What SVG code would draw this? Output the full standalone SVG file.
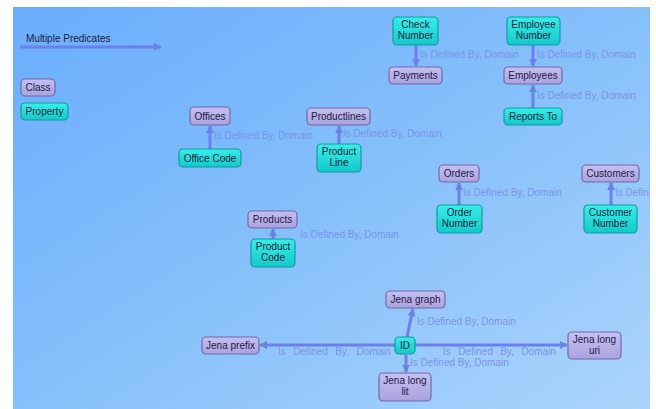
<svg xmlns="http://www.w3.org/2000/svg" width="656" height="409" viewBox="0 0 656 409">
<defs>
<linearGradient id="bg" x1="0" y1="0" x2="1" y2="1">
<stop offset="0" stop-color="#6aadfd"/>
<stop offset="0.5" stop-color="#86c0fb"/>
<stop offset="1" stop-color="#acd4fc"/>
</linearGradient>
<linearGradient id="gc" x1="0" y1="0" x2="0" y2="1">
<stop offset="0" stop-color="#c6bff2"/>
<stop offset="1" stop-color="#aaa2de"/>
</linearGradient>
<linearGradient id="gp" x1="0" y1="0" x2="0" y2="1">
<stop offset="0" stop-color="#34f0e8"/>
<stop offset="1" stop-color="#12c9c9"/>
</linearGradient>
<marker id="ah" viewBox="0 0 10 10" refX="9" refY="5" markerWidth="8" markerHeight="8" markerUnits="userSpaceOnUse" orient="auto">
<path d="M0,0 L10,5 L0,10 z" fill="#6b80ea"/>
</marker>
<clipPath id="frame"><rect x="13" y="7" width="637" height="402"/></clipPath>
</defs>
<style>
.cls rect{fill:url(#gc);stroke:#6f6aa6;stroke-width:1.2}
.prp rect{fill:url(#gp);stroke:#17999c;stroke-width:1.2}
.node text{font-family:"Liberation Sans",Arial,sans-serif;font-size:10px;fill:#1c1c3c;text-anchor:middle}
.lbl{font-family:"Liberation Sans",Arial,sans-serif;font-size:10px;fill:#7d93ec}
.edge{stroke:#6b80ea;stroke-width:3;fill:none;marker-end:url(#ah)}
</style>
<rect x="0" y="0" width="656" height="409" fill="#ffffff"/>
<g clip-path="url(#frame)">
<rect x="13" y="7" width="637" height="402" fill="url(#bg)"/>

<g id="legend">
<text x="26" y="42" font-family="Liberation Sans, Arial, sans-serif" font-size="10" fill="#1c1c3c">Multiple Predicates</text>
<line x1="20" y1="47" x2="161" y2="47" class="edge"/>
</g>

<g id="connectors">
<line class="edge" x1="210" y1="149" x2="210" y2="126"/>
<line class="edge" x1="339" y1="144" x2="339" y2="126"/>
<line class="edge" x1="416" y1="45" x2="416" y2="66"/>
<line class="edge" x1="533" y1="45" x2="533" y2="66"/>
<line class="edge" x1="533" y1="108" x2="533" y2="85"/>
<line class="edge" x1="459" y1="205" x2="459" y2="183"/>
<line class="edge" x1="611" y1="205" x2="611" y2="183"/>
<line class="edge" x1="273" y1="239" x2="273" y2="229"/>
<line class="edge" x1="407" y1="337" x2="413" y2="309"/>
<line class="edge" x1="395" y1="345" x2="260" y2="345"/>
<line class="edge" x1="415" y1="345" x2="567" y2="345"/>
<line class="edge" x1="406" y1="355" x2="406" y2="372"/>
<text class="lbl" x="214" y="139">Is Defined By, Domain</text>
<text class="lbl" x="343" y="137">Is Defined By, Domain</text>
<text class="lbl" x="420" y="58">Is Defined By, Domain</text>
<text class="lbl" x="537" y="58">Is Defined By, Domain</text>
<text class="lbl" x="537" y="99">Is Defined By, Domain</text>
<text class="lbl" x="463" y="196">Is Defined By, Domain</text>
<text class="lbl" x="615" y="196">Is Defined By, Domain</text>
<text class="lbl" x="300" y="238">Is Defined By, Domain</text>
<text class="lbl" x="417" y="325">Is Defined By, Domain</text>
<text class="lbl" x="278" y="355" word-spacing="4.7">Is Defined By, Domain</text>
<text class="lbl" x="443" y="355" word-spacing="4.7">Is Defined By, Domain</text>
<text class="lbl" x="410" y="366">Is Defined By, Domain</text>
</g>

<g id="n-class" class="node cls"><rect x="21" y="79" width="34" height="17" rx="4"/><text x="38" y="91">Class</text></g>
<g id="n-property" class="node prp"><rect x="21" y="103" width="47" height="17" rx="4"/><text x="44.5" y="115">Property</text></g>
<g id="n-offices" class="node cls"><rect x="190" y="107" width="40" height="18" rx="4"/><text x="210" y="119.5">Offices</text></g>
<g id="n-officecode" class="node prp"><rect x="179" y="149" width="62" height="18" rx="4"/><text x="210" y="161.5">Office Code</text></g>
<g id="n-productlines" class="node cls"><rect x="307" y="108" width="63" height="17" rx="4"/><text x="338.5" y="120">Productlines</text></g>
<g id="n-productline" class="node prp"><rect x="317" y="144" width="44" height="28" rx="4"/><text x="339" y="155">Product</text><text x="339" y="166">Line</text></g>
<g id="n-checknumber" class="node prp"><rect x="393" y="17" width="45" height="28" rx="4"/><text x="415.5" y="28">Check</text><text x="415.5" y="39">Number</text></g>
<g id="n-payments" class="node cls"><rect x="389" y="67" width="53" height="17" rx="4"/><text x="415.5" y="79">Payments</text></g>
<g id="n-employeenumber" class="node prp"><rect x="507" y="17" width="53" height="28" rx="4"/><text x="533.5" y="28">Employee</text><text x="533.5" y="39">Number</text></g>
<g id="n-employees" class="node cls"><rect x="504" y="67" width="58" height="17" rx="4"/><text x="533" y="79">Employees</text></g>
<g id="n-reportsto" class="node prp"><rect x="504" y="108" width="58" height="17" rx="4"/><text x="533" y="120">Reports To</text></g>
<g id="n-orders" class="node cls"><rect x="439" y="165" width="40" height="17" rx="4"/><text x="459" y="177">Orders</text></g>
<g id="n-ordernumber" class="node prp"><rect x="437" y="205" width="45" height="28" rx="4"/><text x="459.5" y="216">Order</text><text x="459.5" y="227">Number</text></g>
<g id="n-customers" class="node cls"><rect x="582" y="165" width="57" height="17" rx="4"/><text x="610.5" y="177">Customers</text></g>
<g id="n-customernumber" class="node prp"><rect x="584" y="205" width="53" height="28" rx="4"/><text x="610.5" y="216">Customer</text><text x="610.5" y="227">Number</text></g>
<g id="n-products" class="node cls"><rect x="248" y="211" width="49" height="17" rx="4"/><text x="272.5" y="223">Products</text></g>
<g id="n-productcode" class="node prp"><rect x="251" y="239" width="44" height="28" rx="4"/><text x="273" y="250">Product</text><text x="273" y="261">Code</text></g>
<g id="n-jenagraph" class="node cls"><rect x="386" y="291" width="59" height="17" rx="4"/><text x="415.5" y="303">Jena graph</text></g>
<g id="n-id" class="node prp"><rect x="395" y="337" width="20" height="17" rx="4"/><text x="405" y="349">ID</text></g>
<g id="n-jenaprefix" class="node cls"><rect x="202" y="337" width="57" height="17" rx="4"/><text x="230.5" y="349">Jena prefix</text></g>
<g id="n-jenalonguri" class="node cls"><rect x="568" y="332" width="53" height="27" rx="4"/><text x="594.5" y="343">Jena long</text><text x="594.5" y="354">uri</text></g>
<g id="n-jenalonglit" class="node cls"><rect x="379" y="373" width="52" height="28" rx="4"/><text x="405" y="384">Jena long</text><text x="405" y="395">lit</text></g>
</g>
</svg>
